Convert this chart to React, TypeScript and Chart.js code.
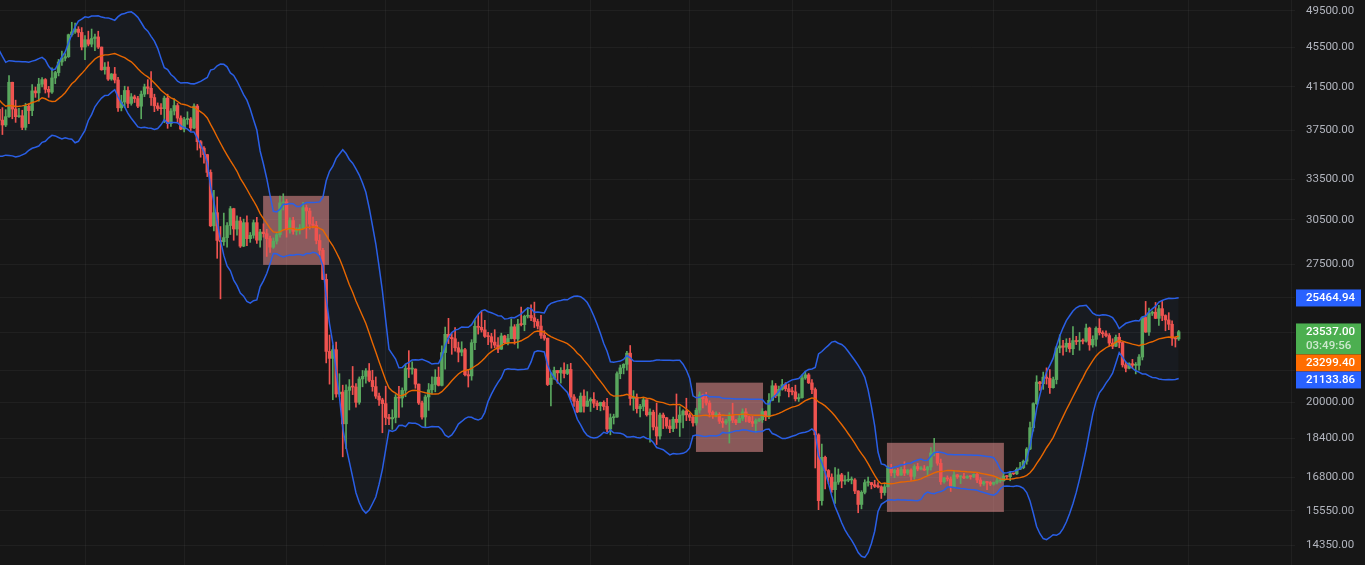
import React, { useEffect, useRef } from 'react';
import { Chart, registerables } from 'chart.js';

Chart.register(...registerables);

// Daily candles, day index 0 = 2022-04-01; first visible candle = 2022-03-06 (index -26)
const FIRST_DAY = -26;

// closes of 2022-02-15 .. 2022-03-05 (used only to seed the 20-day bands)
const warmupCloses = [44540, 43870, 40520, 40000, 40090, 38340, 37020, 38240, 37260, 38330, 39210, 39110, 37700, 43190, 44420, 43920, 42450, 39150, 39400];

const closes = [
  // Mar 6 - Mar 31 2022
  38420, 37990, 38730, 41940, 39420, 38730, 38810, 37780, 39670, 39280, 41110, 40920, 41760, 42200, 41260, 41000, 42360, 42890, 43960, 44350, 44500, 46820, 47130, 47430, 47070, 45510,
  // Apr
  46280, 45810, 46410, 46580, 45500, 43170, 43440, 42250, 42750, 42160, 39530, 40070, 41150, 39940, 40550, 40380, 39680, 40800, 41500, 41360, 40480, 39710, 39470, 39450, 40430, 38110, 39240, 39740, 38600, 37630,
  // May
  38470, 38520, 37730, 39690, 36550, 36010, 35470, 34040, 30080, 31010, 29080, 28990, 29270, 30100, 31300, 29860, 30420, 28700, 30300, 29200, 29430, 30300, 29100, 29650, 29540, 29200, 28630, 29030, 29470, 31720, 31790,
  // Jun
  29800, 30450, 29700, 29860, 29910, 31370, 31130, 30200, 30110, 29080, 28420, 26570, 22490, 22130, 22580, 20380, 20470, 19020, 20550, 20720, 20710, 19990, 21100, 21230, 21500, 21030, 20730, 20280, 20100, 19930,
  // Jul
  19300, 19240, 19300, 20230, 20190, 20550, 21620, 21590, 21590, 20850, 19960, 19320, 20240, 20580, 20830, 21190, 20790, 22430, 23400, 23230, 23160, 22680, 22450, 22580, 21310, 21250, 22950, 23840, 23780, 23640, 23290,
  // Aug
  23270, 22980, 22820, 22610, 23310, 22950, 23170, 23810, 23150, 23950, 23930, 24400, 24440, 24310, 24100, 23850, 23340, 23190, 20830, 21140, 21520, 21400, 21530, 21370, 21570, 20240, 20040, 19550, 20280, 19810, 20050,
  // Sep
  20130, 19950, 19830, 19990, 19800, 18790, 19290, 19320, 21360, 21650, 21830, 22400, 20170, 20230, 19700, 19800, 20110, 19420, 19540, 18880, 18490, 19410, 19290, 18920, 18810, 19220, 19080, 19410, 19590, 19420,
  // Oct
  19310, 19060, 19630, 20340, 20160, 19960, 19530, 19420, 19440, 19130, 19060, 19150, 19380, 19180, 19070, 19260, 19550, 19330, 19120, 19040, 19160, 19200, 19570, 19330, 20080, 20770, 20290, 20600, 20820, 20630, 20490,
  // Nov
  20480, 20150, 20210, 21150, 21300, 20910, 20590, 18540, 15920, 17600, 17070, 16810, 16330, 16620, 16900, 16660, 16690, 16700, 16700, 16280, 15780, 16230, 16600, 16600, 16520, 16460, 16440, 16220, 16440, 17170,
  // Dec
  16980, 17090, 16890, 17110, 16970, 17090, 16840, 17230, 17130, 17130, 17090, 17210, 17780, 17810, 17360, 16630, 16780, 16740, 16440, 16900, 16820, 16830, 16780, 16840, 16830, 16920, 16700, 16550, 16630, 16600, 16540,
  // Jan 2023
  16610, 16670, 16670, 16850, 16830, 16950, 16940, 17120, 17180, 17440, 17940, 18850, 19930, 20950, 20870, 21190, 21130, 20680, 21070, 22670, 22780, 22710, 22920, 22630, 23060, 23010, 23080, 23030, 23740, 22830, 23130,
  // Feb 1 - Feb 26 2023
  23730, 23490, 23430, 23330, 22930, 22760, 23240, 22960, 21800, 21630, 21860, 21780, 21780, 22200, 24330, 23520, 24570, 24630, 24280, 24830, 24440, 24190, 23950, 23190, 23150, 23537,
];

const highs = [
  39690, 39550, 39360, 42600, 41950, 40240, 39490, 39310, 39950, 39890, 41720, 41480, 42330, 42400, 42300, 41540, 43360, 43020, 44220, 45090, 44820, 46890, 48190, 48100, 47700, 47600,
  46720, 47210, 47440, 46890, 47200, 45510, 43900, 43970, 42800, 43410, 42410, 40700, 41560, 41500, 40860, 40710, 40600, 41100, 41760, 42200, 42980, 40800, 39980, 39930, 40620, 40800, 39470, 40370, 39930, 38800,
  38670, 39170, 38650, 39900, 39840, 36650, 36140, 35500, 34240, 32660, 32160, 30030, 30980, 30300, 31460, 31330, 30780, 30690, 30550, 30780, 29620, 30490, 30670, 29830, 30220, 29840, 29380, 29250, 29550, 32220, 32400,
  31980, 30650, 30680, 29950, 30170, 31770, 31560, 31330, 30700, 30390, 29470, 28550, 26900, 23360, 22800, 22980, 21360, 20800, 20820, 21070, 21720, 20880, 21200, 21520, 21610, 21870, 21530, 21200, 20420, 20180,
  20750, 19440, 19650, 20350, 20740, 20670, 21840, 22530, 21950, 21600, 20860, 20050, 20330, 20880, 21200, 21560, 21690, 22780, 23800, 24280, 23440, 23760, 22980, 23000, 22650, 21560, 23110, 24200, 24440, 24670, 24170,
  23510, 23450, 23650, 23220, 23460, 23350, 23400, 24250, 23930, 24230, 24920, 24460, 24890, 25050, 25210, 24230, 24450, 23600, 23200, 21380, 21690, 21520, 21660, 21900, 21820, 21880, 20350, 20150, 20430, 20580, 20490,
  20200, 20450, 20060, 20000, 20060, 20180, 19460, 19450, 21450, 21790, 21860, 22490, 22800, 20540, 20380, 19900, 20190, 20110, 19690, 19630, 19950, 19500, 19500, 19310, 19190, 19320, 20380, 19790, 19650, 20180,
  19490, 19400, 19720, 20480, 20370, 20460, 20060, 19600, 19560, 19520, 19270, 19220, 19510, 19950, 19220, 19420, 19690, 19700, 19360, 19350, 19240, 19260, 19700, 19600, 20400, 21020, 20880, 20750, 21080, 20920, 20850,
  20700, 20800, 20390, 21300, 21480, 21370, 21070, 20670, 18590, 18150, 17650, 17110, 16940, 17190, 17130, 16960, 16870, 17010, 16820, 16750, 16290, 16290, 16710, 16810, 16610, 16690, 16600, 16480, 16530, 17250,
  17320, 17110, 17160, 17200, 17420, 17110, 17140, 17300, 17360, 17230, 17270, 17240, 18000, 18390, 17850, 17530, 16800, 16860, 16820, 17060, 16920, 16870, 16960, 16870, 16870, 16940, 16970, 16790, 16660, 16650, 16640,
  16620, 16760, 16780, 16990, 16880, 17040, 16960, 17180, 17400, 17490, 18000, 19100, 19970, 21260, 20990, 21440, 21650, 21560, 21190, 22750, 23370, 23080, 23160, 23190, 23820, 23290, 23500, 23160, 23960, 23790, 23320,
  23810, 24260, 23590, 23590, 23440, 23160, 23360, 23450, 22990, 21940, 21900, 22080, 21920, 22330, 24370, 25250, 24870, 24700, 25190, 25020, 25250, 24480, 24600, 24140, 23230, 23610,
];

const lows = [
  38090, 37160, 37850, 38660, 38540, 38220, 38660, 37580, 37560, 38100, 38820, 40500, 40140, 41500, 40910, 40500, 40860, 41800, 42560, 43620, 44070, 44420, 46660, 46950, 46600, 45200,
  44200, 45620, 45530, 45120, 45350, 43120, 42730, 42110, 42130, 41870, 39200, 39250, 39550, 39550, 39770, 40020, 39550, 38540, 40570, 40820, 39750, 39180, 39290, 38930, 38200, 37700, 37870, 38880, 38180, 37580,
  37390, 38050, 37500, 37670, 35850, 35260, 34780, 33710, 30030, 29730, 27900, 25400, 28750, 28630, 29480, 29090, 29440, 28610, 28660, 28730, 28950, 29230, 28880, 28630, 29300, 28020, 28280, 28550, 28840, 29300, 31200,
  29300, 29580, 29500, 29450, 29510, 29880, 29220, 29850, 29940, 28850, 28100, 26560, 21900, 20850, 20110, 20230, 20250, 17620, 17960, 19640, 20350, 19770, 19900, 20720, 20900, 20960, 20510, 20170, 19850, 18630,
  18980, 18980, 18780, 19060, 19300, 19770, 20250, 21170, 21330, 20650, 19890, 19230, 18900, 19620, 20380, 20480, 20760, 20760, 21580, 22900, 22340, 22500, 21950, 22260, 21250, 20710, 21040, 22580, 23410, 23520, 23230,
  22850, 22660, 22680, 22430, 22590, 22920, 22830, 23150, 22870, 22660, 23860, 23590, 24300, 24150, 23770, 23690, 23180, 23080, 20780, 19820, 21080, 20890, 20900, 21150, 21310, 20110, 19800, 19520, 19550, 19540, 19800,
  19570, 19760, 19650, 19600, 19640, 18680, 18540, 19010, 19300, 21110, 21350, 21540, 19860, 19620, 19500, 19320, 19600, 19360, 18230, 18750, 18130, 18360, 18810, 18820, 18630, 18680, 18820, 18470, 18840, 19160,
  19160, 18920, 18960, 19500, 19730, 19860, 19320, 19260, 19320, 19030, 18860, 18990, 18190, 19070, 18980, 19070, 19160, 19100, 19070, 18900, 18650, 19110, 19080, 19160, 19250, 20060, 20210, 20000, 20560, 20520, 20240,
  20330, 20050, 20030, 20180, 21080, 20880, 20390, 17170, 15590, 15750, 16360, 16550, 16230, 15820, 16530, 16400, 16530, 16630, 16550, 16180, 15480, 15620, 16170, 16460, 16360, 16410, 16400, 16000, 16120, 16430,
  16860, 16790, 16860, 16880, 16870, 16910, 16680, 16730, 17060, 17090, 17070, 16870, 17080, 17660, 17280, 16530, 16580, 16660, 16260, 16400, 16760, 16560, 16750, 16760, 16730, 16790, 16600, 16460, 16490, 16330, 16480,
  16500, 16550, 16600, 16650, 16750, 16670, 16910, 16910, 17100, 17140, 17320, 17910, 18700, 19890, 20550, 20600, 20850, 20410, 20660, 20860, 22420, 22290, 22480, 22450, 22320, 22850, 22550, 22880, 22980, 22550, 22710,
  22760, 23360, 23230, 23260, 22760, 22630, 22740, 22680, 21690, 21450, 21600, 21640, 21350, 21530, 22050, 23500, 23340, 24440, 24260, 23880, 24150, 23590, 23650, 22800, 22720, 23070,
];

const priceTicks = [49500, 45500, 41500, 37500, 33500, 30500, 27500, 25500, 23500, 21500, 20000, 18400, 16800, 15550, 14350];
const hiddenTicks = [25500, 23500, 21500];
const monthStarts = [0, 30, 61, 91, 122, 153, 183, 214, 244, 275, 306, 334, 365];

// highlighted zones (day index range, price range)
const zoneStart = [53.9, 184.9, 242.7];
const zoneEnd = [73.85, 205.2, 278.1];
const zoneHigh = [32240, 20920, 18200];
const zoneLow = [27480, 17820, 15510];

// last values shown on the price axis
const lastUpper = 25464.94;
const lastMid = 23299.4;
const lastLower = 21133.86;
const lastPrice = 23537.0;
const countdown = '03:49:56';

const BG = '#161616';
const GREEN = '#59A75E';
const RED = '#EF5350';
const BLUE = '#2A5FE6';
const ORANGE = '#E86700';
const GRID = 'rgba(255,255,255,0.045)';
const FONT = 'Roboto';

export default function App() {
  const ref = useRef<HTMLCanvasElement | null>(null);

  useEffect(() => {
    document.body.style.margin = '0';
    document.body.style.background = BG;
    const canvas = ref.current;
    if (!canvas) return;

    const opens = closes.map((c, i) => (i === 0 ? warmupCloses[warmupCloses.length - 1] : closes[i - 1]));
    const all = [...warmupCloses, ...closes];
    const upper: { x: number; y: number }[] = [];
    const mid: { x: number; y: number }[] = [];
    const lower: { x: number; y: number }[] = [];
    closes.forEach((_, i) => {
      const end = i + warmupCloses.length;
      const win = all.slice(end - 19, end + 1);
      const m = win.reduce((a, b) => a + b, 0) / win.length;
      const sd = Math.sqrt(win.reduce((a, b) => a + (b - m) * (b - m), 0) / win.length);
      const x = i + FIRST_DAY;
      mid.push({ x, y: m });
      upper.push({ x, y: m + 2 * sd });
      lower.push({ x, y: m - 2 * sd });
    });
    const colors = closes.map((c, i) => (c >= opens[i] ? GREEN : RED));
    const bodies = closes.map((c, i) => ({ x: i + FIRST_DAY, y: [opens[i], c] }));
    const wicks = closes.map((_, i) => ({ x: i + FIRST_DAY, y: [lows[i], highs[i]] }));

    const bgPlugin = {
      id: 'bg',
      beforeDraw(chart: any) {
        const c = chart.ctx;
        c.save();
        c.fillStyle = BG;
        c.fillRect(0, 0, chart.width, chart.height);
        c.restore();
      },
    };

    const zonePlugin = {
      id: 'zones',
      beforeDatasetsDraw(chart: any) {
        const { ctx: c, chartArea: a, scales } = chart;
        c.save();
        c.beginPath();
        c.rect(a.left, a.top, a.right - a.left, a.bottom - a.top);
        c.clip();
        c.fillStyle = 'rgba(240,150,150,0.53)';
        zoneStart.forEach((s, i) => {
          const x0 = scales.x.getPixelForValue(s);
          const x1 = scales.x.getPixelForValue(zoneEnd[i]);
          const y0 = scales.y.getPixelForValue(zoneHigh[i]);
          const y1 = scales.y.getPixelForValue(zoneLow[i]);
          c.fillRect(x0, y0, x1 - x0, y1 - y0);
        });
        c.restore();
      },
    };

    const labelPlugin = {
      id: 'priceLabels',
      afterDraw(chart: any) {
        const { ctx: c, chartArea: a, scales } = chart;
        const items = [
          { v: lastUpper, color: '#2962FF', lines: [lastUpper.toFixed(2)], h: 17 },
          { v: lastPrice, color: '#4CAF50', lines: [lastPrice.toFixed(2), countdown], h: 31 },
          { v: lastMid, color: '#FF6D00', lines: [lastMid.toFixed(2)], h: 17 },
          { v: lastLower, color: '#2962FF', lines: [lastLower.toFixed(2)], h: 17 },
        ].map((it) => ({ ...it, y: scales.y.getPixelForValue(it.v) }));
        items.sort((p, q) => p.y - q.y);
        let prevBottom = -Infinity;
        c.save();
        c.font = `500 11.5px ${FONT}`;
        c.textBaseline = 'middle';
        c.textAlign = 'left';
        items.forEach((it) => {
          const top = Math.max(it.y - 8.3, prevBottom);
          prevBottom = top + it.h;
          c.fillStyle = it.color;
          c.fillRect(a.right + 1, top, 65, it.h);
          it.lines.forEach((t, k) => {
            c.fillStyle = k === 0 ? '#FFFFFF' : 'rgba(255,255,255,0.72)';
            c.fillText(t, a.right + 11, top + 8.5 + k * 14.4);
          });
        });
        c.restore();
      },
    };

    const chart = new Chart(canvas, {
      type: 'bar',
      data: {
        datasets: [
          {
            type: 'line',
            data: upper,
            borderColor: BLUE,
            borderWidth: 1.5,
            pointRadius: 0,
            fill: 2,
            backgroundColor: 'rgba(60,120,200,0.06)',
            order: 0,
          } as any,
          { type: 'line', data: mid, borderColor: ORANGE, borderWidth: 1.4, pointRadius: 0, fill: false, order: 0 } as any,
          { type: 'line', data: lower, borderColor: BLUE, borderWidth: 1.5, pointRadius: 0, fill: false, order: 0 } as any,
          {
            type: 'bar',
            data: bodies,
            backgroundColor: colors,
            barThickness: 2.8,
            grouped: false,
            minBarLength: 1,
            borderWidth: 0,
            order: 1,
          } as any,
          {
            type: 'bar',
            data: wicks,
            backgroundColor: colors,
            barThickness: 1,
            grouped: false,
            borderWidth: 0,
            order: 2,
          } as any,
        ],
      },
      options: {
        animation: false,
        responsive: false,
        maintainAspectRatio: false,
        layout: { padding: 0 },
        plugins: {
          legend: { display: false },
          tooltip: { enabled: false },
          filler: { drawTime: 'beforeDatasetsDraw' },
        } as any,
        scales: {
          x: {
            type: 'linear',
            min: -25.73,
            max: 366.2,
            offset: false,
            afterBuildTicks: (s: any) => {
              s.ticks = monthStarts.map((v) => ({ value: v }));
            },
            afterFit: (s: any) => {
              s.height = 0;
              s.paddingLeft = 0;
              s.paddingRight = 0;
            },
            ticks: { display: false },
            grid: { color: GRID, drawTicks: false, offset: false },
            border: { display: false },
          } as any,
          y: {
            type: 'logarithmic',
            position: 'right',
            min: 13716,
            max: 50740,
            afterBuildTicks: (s: any) => {
              s.ticks = priceTicks.map((v) => ({ value: v }));
            },
            afterFit: (s: any) => {
              s.width = 70;
              s.paddingTop = 0;
              s.paddingBottom = 0;
            },
            ticks: {
              autoSkip: false,
              padding: 11,
              color: '#B2B5BE',
              font: { family: FONT, size: 11.5 },
              callback: (v: any) => (hiddenTicks.includes(Number(v)) ? '' : Number(v).toFixed(2)),
            },
            grid: { color: GRID, drawTicks: false },
            border: { display: false },
          } as any,
        },
      },
      plugins: [bgPlugin, zonePlugin, labelPlugin],
    });
    return () => chart.destroy();
  }, []);

  return (
    <div style={{ position: 'fixed', left: 0, top: 0, width: 1365, height: 565, background: BG }}>
      <canvas ref={ref} width={1365} height={565} style={{ width: 1365, height: 565, display: 'block' }} />
    </div>
  );
}
